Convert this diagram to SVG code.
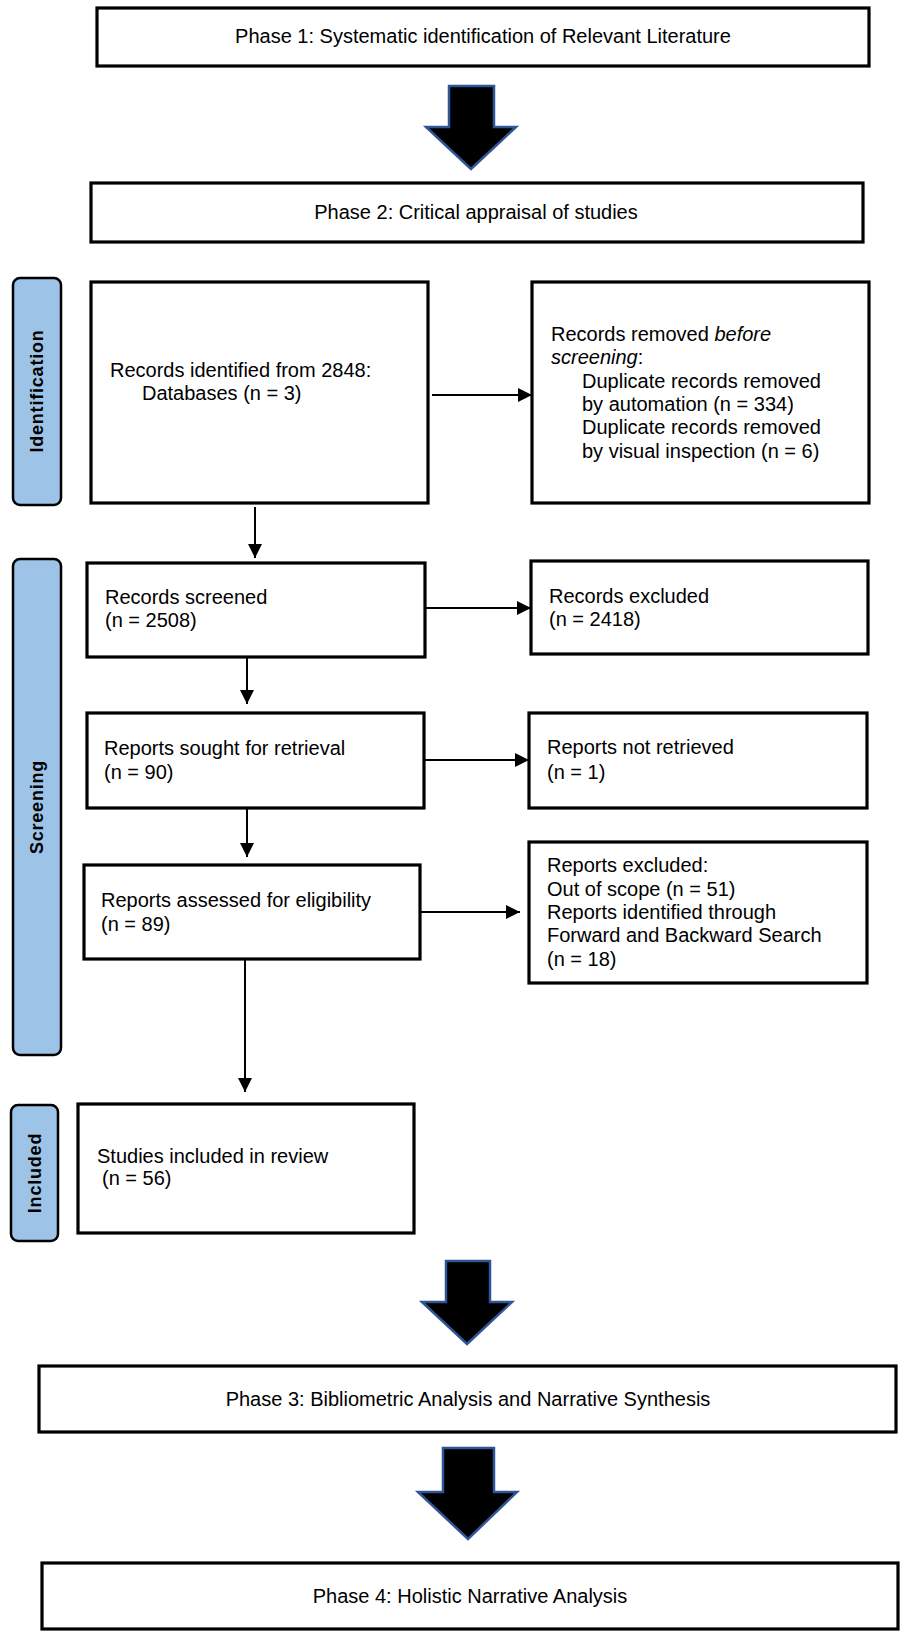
<svg xmlns="http://www.w3.org/2000/svg" width="906" height="1637" viewBox="0 0 906 1637">
<defs>
<marker id="ah" markerUnits="userSpaceOnUse" markerWidth="14" markerHeight="14" refX="14" refY="7" orient="auto">
<path d="M0,0 L14,7 L0,14 z" fill="#000"/>
</marker>
<style>
.box{fill:#fff;stroke:#000;stroke-width:3.2}
.tab{fill:#9DC3E6;stroke:#000;stroke-width:2.5}
.t{font-family:"Liberation Sans",Arial,sans-serif;font-size:20px;fill:#000}
.c{text-anchor:middle}
.tt{font-family:"Liberation Sans",Arial,sans-serif;font-size:18px;font-weight:bold;letter-spacing:0.8px;fill:#000;text-anchor:middle}
.big{fill:#000;stroke:#2F5597;stroke-width:2.5;stroke-linejoin:miter}
.ln{stroke:#000;stroke-width:2;fill:none;marker-end:url(#ah)}
</style>
</defs>
<rect width="906" height="1637" fill="#fff"/>

<g id="phase1"><rect class="box" x="97" y="8" width="772" height="58"/><text class="t c" x="483" y="43">Phase 1: Systematic identification of Relevant Literature</text></g>
<g id="phase2"><rect class="box" x="91" y="183" width="772" height="59"/><text class="t c" x="476" y="219">Phase 2: Critical appraisal of studies</text></g>

<g id="tab-identification"><rect class="tab" x="13" y="278" width="48" height="227" rx="7"/><text class="tt" transform="translate(43,391) rotate(-90)">Identification</text></g>
<g id="tab-screening"><rect class="tab" x="13" y="559" width="48" height="496" rx="7"/><text class="tt" transform="translate(43,807) rotate(-90)">Screening</text></g>
<g id="tab-included"><rect class="tab" x="11" y="1105" width="47" height="136" rx="7"/><text class="tt" transform="translate(41,1173) rotate(-90)">Included</text></g>

<g id="records-identified"><rect class="box" x="91" y="282" width="337" height="221"/><text class="t" x="110" y="377">Records identified from 2848:</text><text class="t" x="142" y="400">Databases (n = 3)</text></g>
<g id="records-removed"><rect class="box" x="532" y="282" width="337" height="221"/>
<text class="t" x="551" y="341">Records removed <tspan font-style="italic">before</tspan></text>
<text class="t" x="551" y="364"><tspan font-style="italic">screening</tspan>:</text>
<text class="t" x="582" y="388">Duplicate records removed</text>
<text class="t" x="582" y="411">by automation (n = 334)</text>
<text class="t" x="582" y="434">Duplicate records removed</text>
<text class="t" x="582" y="458">by visual inspection (n = 6)</text></g>

<g id="records-screened"><rect class="box" x="87" y="563" width="338" height="94"/><text class="t" x="105" y="604">Records screened</text><text class="t" x="105" y="627">(n = 2508)</text></g>
<g id="records-excluded"><rect class="box" x="531" y="561" width="337" height="93"/><text class="t" x="549" y="603">Records excluded</text><text class="t" x="549" y="626">(n = 2418)</text></g>

<g id="reports-sought"><rect class="box" x="87" y="713" width="337" height="95"/><text class="t" x="104" y="755">Reports sought for retrieval</text><text class="t" x="104" y="779">(n = 90)</text></g>
<g id="reports-not-retrieved"><rect class="box" x="529" y="713" width="338" height="95"/><text class="t" x="547" y="754">Reports not retrieved</text><text class="t" x="547" y="779">(n = 1)</text></g>

<g id="reports-assessed"><rect class="box" x="84" y="865" width="336" height="94"/><text class="t" x="101" y="907">Reports assessed for eligibility</text><text class="t" x="101" y="931">(n = 89)</text></g>
<g id="reports-excluded"><rect class="box" x="529" y="842" width="338" height="141"/>
<text class="t" x="547" y="872">Reports excluded:</text>
<text class="t" x="547" y="896">Out of scope (n = 51)</text>
<text class="t" x="547" y="919">Reports identified through</text>
<text class="t" x="547" y="942">Forward and Backward Search</text>
<text class="t" x="547" y="966">(n = 18)</text></g>

<g id="studies-included"><rect class="box" x="78" y="1104" width="336" height="129"/><text class="t" x="97" y="1163">Studies included in review</text><text class="t" x="102" y="1185">(n = 56)</text></g>

<g id="phase3"><rect class="box" x="39" y="1366" width="857" height="66"/><text class="t c" x="468" y="1406">Phase 3: Bibliometric Analysis and Narrative Synthesis</text></g>
<g id="phase4"><rect class="box" x="42" y="1563" width="856" height="66"/><text class="t c" x="470" y="1603">Phase 4: Holistic Narrative Analysis</text></g>

<g id="connectors">
<polygon class="big" points="449,86 494,86 494,127 516,127 471,169 426,127 449,127"/>
<polygon class="big" points="446,1261 490,1261 490,1302 512,1302 467,1344 422,1302 446,1302"/>
<polygon class="big" points="443,1448 494,1448 494,1492 517,1492 468,1539 418,1492 443,1492"/>
<line class="ln" x1="432" y1="395" x2="532" y2="395"/>
<line class="ln" x1="255" y1="507" x2="255" y2="558"/>
<line class="ln" x1="425" y1="608" x2="531" y2="608"/>
<line class="ln" x1="247" y1="657" x2="247" y2="704"/>
<line class="ln" x1="424" y1="760" x2="529" y2="760"/>
<line class="ln" x1="247" y1="808" x2="247" y2="857"/>
<line class="ln" x1="420" y1="912" x2="520" y2="912"/>
<line class="ln" x1="245" y1="959" x2="245" y2="1092"/>
</g>
</svg>
